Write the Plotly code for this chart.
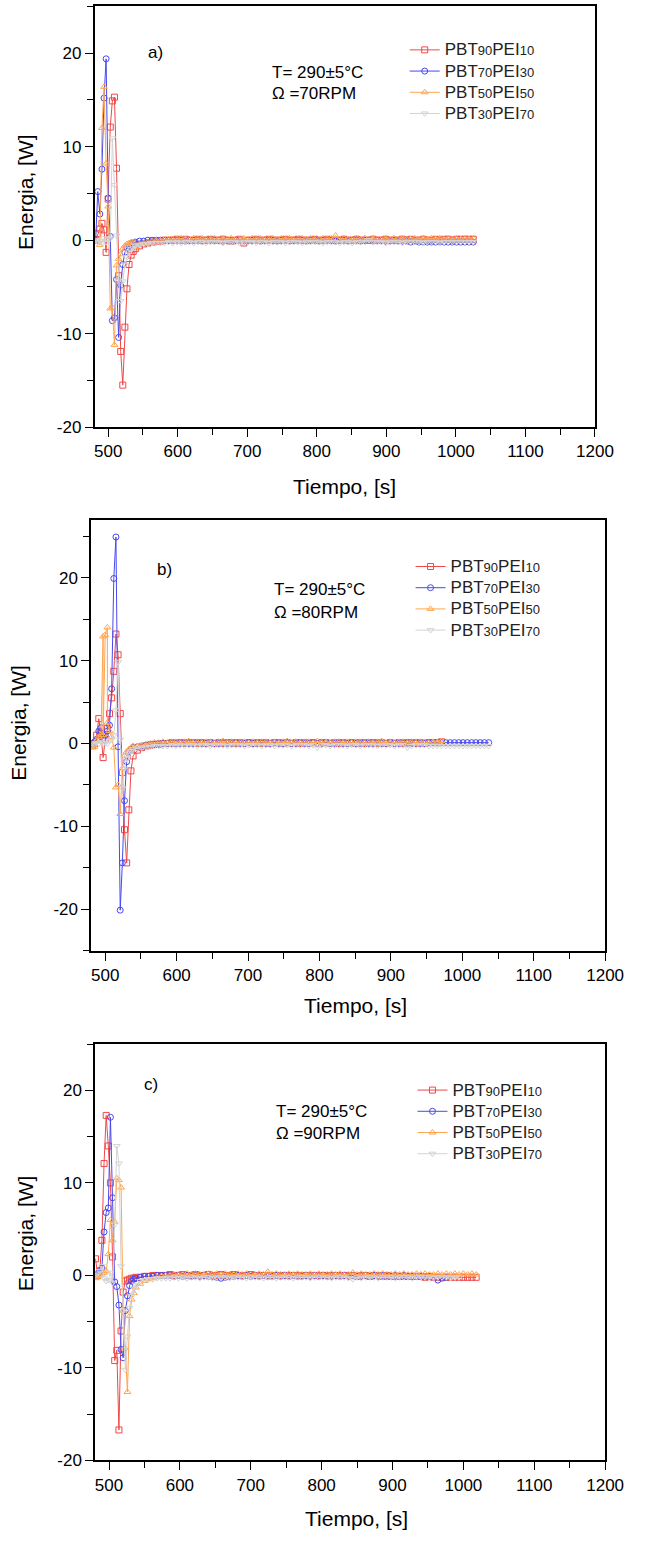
import plotly.graph_objects as go

# ---------------- DATA ----------------
series_labels = [("90", "10"), ("70", "30"), ("50", "50"), ("30", "70")]
panel_tags = ["a)", "b)", "c)"]
panel_rpm = ["70", "80", "90"]
x_tick_vals = [500, 600, 700, 800, 900, 1000, 1100, 1200]
x_tick_text = ["500", "600", "700", "800", "900", "1000", "1100", "1200"]
y_tick_vals = [-20, -10, 0, 10, 20]
y_tick_text = ["-20", "-10", "0", "10", "20"]
tail_step = 6

# ---- panel a (70 RPM) ----
a_t = [482, 485, 488, 491, 494, 497, 500, 503, 506, 509, 512, 515, 518, 521, 524, 527, 530, 533, 536]
a_red_v = [0.0, 0.7, 1.2, 1.8, 1.1, -1.3, 4.4, 12.1, 14.9, 15.3, 7.7, -3.8, -11.9, -15.5, -9.3, -5.2, -2.6, -1.6, -1.2]
a_blue_v = [0.0, 5.2, 2.8, 7.6, 15.2, 19.4, 4.5, 0.4, -8.6, -8.3, -4.2, -10.4, -4.8, -2.6, -1.3, -0.8, -0.6, -0.4, -0.3]
a_orange_v = [-0.2, 0.0, -0.5, 12.0, 16.4, 8.2, 3.6, -7.3, -7.2, -11.2, -2.7, -2.0, -1.5, -0.9, -0.6, -0.4, -0.3, -0.2, -0.2]
a_gray_v = [0.0, -0.2, -0.1, -0.3, 0.2, -0.2, 0.1, 0.2, 10.9, 5.9, 0.5, -4.3, -6.5, -4.4, -2.6, -1.8, -1.3, -1.0, -0.8]
a_tail_start = 539
a_red_tail = [-0.9, -0.6, -0.4, -0.3, -0.2, -0.1, -0.1, 0.0, 0.0, 0.0,
              0.1, 0.0, 0.1, 0.0, 0.0, 0.1, 0.0, 0.0, 0.1, 0.0,
              0.0, 0.1, 0.0, -0.1, 0.0, 0.1, -0.3, 0.0, 0.0, 0.1,
              0.0, 0.0, 0.1, 0.0, 0.0, 0.0, 0.1, 0.0, 0.0, 0.1,
              0.0, 0.0, 0.0, 0.1, 0.0, 0.0, 0.1, 0.0, 0.0, 0.0,
              0.1, 0.0, 0.0, 0.1, 0.0, 0.0, 0.0, 0.1, 0.0, 0.0,
              0.1, 0.0, 0.0, 0.0, 0.1, 0.0, 0.1, 0.0, 0.0, 0.1,
              0.0, 0.0, 0.1, 0.0, 0.1, 0.1, 0.0, 0.1, 0.1, 0.1,
              0.1, 0.1]
a_blue_tail = [-0.2, -0.1, -0.1, 0.0, 0.0, 0.0, 0.0, 0.0, 0.0, 0.0,
               0.0, 0.0, -0.1, 0.0, 0.0, 0.0, -0.1, 0.0, 0.0, 0.0,
               0.0, -0.1, 0.0, 0.0, 0.0, 0.0, -0.1, 0.0, 0.0, 0.0,
               -0.1, 0.0, 0.0, 0.0, -0.1, 0.0, 0.0, -0.1, 0.0, 0.0,
               0.0, -0.1, 0.0, 0.0, -0.1, 0.0, 0.0, 0.0, -0.1, 0.0,
               0.0, -0.1, 0.0, 0.0, -0.1, 0.0, 0.0, -0.1, 0.0, 0.0,
               -0.1, -0.1, 0.0, -0.1, -0.1, -0.1, -0.2, -0.1, -0.2, -0.2,
               -0.2, -0.2, -0.2, -0.2, -0.2, -0.2, -0.2, -0.2, -0.2, -0.2,
               -0.2, -0.2]
a_orange_tail = [-0.7, -0.4, -0.3, -0.2, -0.1, 0.0, 0.0, 0.1, 0.1, 0.1,
                 0.1, 0.2, 0.1, 0.1, 0.2, 0.1, 0.2, 0.1, 0.1, 0.2,
                 0.1, 0.2, 0.1, 0.2, 0.1, 0.1, 0.2, 0.1, 0.2, 0.1,
                 0.2, 0.1, 0.1, 0.2, 0.1, 0.2, 0.1, 0.2, 0.1, 0.1,
                 0.2, 0.1, 0.2, 0.1, 0.1, 0.2, 0.1, 0.2, 0.5, 0.1,
                 0.2, 0.1, 0.1, 0.2, 0.1, 0.2, 0.1, 0.2, 0.1, 0.1,
                 0.2, 0.1, 0.2, 0.1, 0.2, 0.1, 0.1, 0.2, 0.1, 0.2,
                 0.1, 0.2, 0.1, 0.2, 0.1, 0.2, 0.1, 0.2, 0.1, 0.2,
                 0.1, 0.2]
a_gray_tail = [-0.6, -0.5, -0.4, -0.4, -0.3, -0.3, -0.3, -0.3, -0.2, -0.3,
               -0.2, -0.3, -0.2, -0.2, -0.3, -0.2, -0.2, -0.3, -0.2, -0.2,
               -0.2, -0.3, -0.2, -0.2, -0.2, -0.3, -0.2, -0.2, -0.2, -0.3,
               -0.2, -0.2, -0.3, -0.2, -0.2, -0.2, -0.3, -0.2, -0.2, -0.2,
               -0.3, -0.2, -0.2, -0.2, -0.2, -0.3, -0.2, -0.2, -0.2, -0.3,
               -0.2, -0.2, -0.3, -0.2, -0.2, -0.2, 0.0, -0.2, -0.2, -0.2,
               -0.3, -0.2, -0.2, -0.2, -0.3, -0.2, -0.2, -0.2, -0.2, -0.3,
               -0.2, -0.2, -0.2, -0.3, -0.2, -0.2, -0.2, -0.2, -0.2, -0.2,
               -0.2, -0.2]

# ---- panel b (80 RPM) ----
b_t = [482, 485, 488, 491, 494, 497, 500, 503, 506, 509, 512, 515, 518, 521, 524, 527, 530, 533, 536, 539]
b_red_v = [-0.2, 0.0, 1.0, 3.0, 1.2, -1.7, 0.5, 1.8, 3.6, 5.5, 8.7, 13.2, 10.7, 3.6, -3.5, -10.4, -14.4, -8.0, -3.3, -1.5]
b_blue_v = [0.0, 0.2, 0.5, 1.5, 1.9, 0.6, 1.0, 1.5, 2.2, 6.6, 19.9, 24.9, -0.4, -20.1, -14.4, -6.9, -2.2, -1.0, -0.7, -0.5]
b_orange_t = [482, 485, 488, 491, 494, 497, 497, 500, 503, 503, 506, 509, 512, 515, 518, 521, 524, 527, 530, 533, 536, 539]
b_orange_v = [-0.5, -0.4, 0.3, 0.8, 1.0, 12.9, 1.0, 13.1, 14.0, 2.5, 1.5, 0.8, -0.5, -5.3, -5.0, -8.5, -3.0, -1.5, -1.0, -0.7, -0.5, -0.3]
b_gray_v = [0.0, -0.1, 0.1, 0.0, 0.2, 0.0, 0.1, 0.0, 0.3, 0.5, 1.0, 4.0, 9.8, 0.5, -5.4, -3.0, -1.8, -1.2, -0.9, -0.7]
b_tail_start = 545
b_red_tail = [-0.8, -0.5, -0.3, -0.2, -0.1, -0.1, 0.0, 0.0, 0.1, 0.0,
              0.1, 0.0, 0.1, 0.1, 0.0, 0.1, 0.0, 0.1, 0.0, 0.1,
              0.0, 0.1, 0.1, 0.0, 0.1, 0.0, 0.1, 0.0, 0.1, 0.0,
              0.1, 0.0, 0.1, 0.1, 0.0, 0.1, 0.0, 0.1, 0.0, 0.1,
              0.0, 0.1, 0.0, 0.1, 0.1, 0.0, 0.1, 0.0, 0.1, 0.0,
              0.1, 0.0, 0.1, 0.0, 0.1, 0.1, 0.0, 0.1, 0.0, 0.1,
              0.0, 0.1, 0.0, 0.1, 0.1, 0.0, 0.1, 0.0, 0.1, 0.1,
              0.1, 0.2]
b_blue_tail = [-0.4, -0.3, -0.2, -0.1, -0.1, 0.0, 0.0, 0.0, 0.0, 0.0,
               0.0, 0.1, 0.0, 0.0, 0.1, 0.0, 0.0, 0.1, 0.0, 0.0,
               0.1, 0.0, 0.0, 0.1, 0.0, 0.0, 0.1, 0.0, 0.0, 0.1,
               0.0, 0.0, 0.1, 0.0, 0.0, 0.1, 0.0, 0.0, 0.1, 0.0,
               0.0, 0.1, 0.0, 0.0, 0.1, 0.0, 0.0, 0.1, 0.0, 0.0,
               0.1, 0.0, 0.0, 0.1, 0.0, 0.0, 0.1, 0.0, 0.0, 0.1,
               0.0, 0.0, 0.1, 0.0, 0.0, 0.1, 0.0, 0.0, 0.1, 0.1,
               0.1, 0.1, 0.1, 0.1, 0.1, 0.1, 0.1, 0.1, 0.1, 0.1,
               0.1, 0.1, 0.1]
b_orange_tail = [-0.3, -0.2, -0.1, 0.0, 0.1, 0.1, 0.2, 0.1, 0.2, 0.2,
                 0.1, 0.2, 0.3, 0.1, 0.2, 0.1, 0.2, 0.2, 0.1, 0.2,
                 0.3, 0.1, 0.2, 0.1, 0.2, 0.2, 0.1, 0.2, 0.1, 0.2,
                 0.2, 0.1, 0.2, 0.1, 0.2, 0.3, 0.1, 0.2, 0.1, 0.2,
                 0.2, 0.1, 0.3, 0.1, 0.2, 0.1, 0.2, 0.2, 0.1, 0.2,
                 0.1, 0.2, 0.2, 0.1, 0.2, 0.1, 0.2, 0.3, 0.1, 0.2,
                 0.1, 0.2, 0.2, 0.1, 0.2, 0.1, 0.2, 0.2, 0.1, 0.2,
                 0.2, 0.3]
b_gray_tail = [-0.6, -0.5, -0.4, -0.4, -0.3, -0.3, -0.3, -0.3, -0.2, -0.3,
               -0.2, -0.3, -0.2, -0.2, -0.3, -0.2, -0.2, -0.3, -0.2, -0.2,
               -0.2, -0.3, -0.2, -0.2, -0.2, -0.3, -0.2, -0.2, -0.2, -0.3,
               -0.2, -0.2, -0.3, -0.2, -0.2, -0.2, -0.3, -0.2, -0.2, -0.2,
               -0.3, -0.2, -0.5, -0.2, -0.2, -0.3, -0.2, -0.2, -0.2, -0.3,
               -0.2, -0.2, -0.3, -0.2, -0.2, -0.2, -0.3, -0.2, -0.2, -0.2,
               -0.3, -0.2, -0.2, -0.5, -0.3, -0.2, -0.2, -0.2, -0.3, -0.3,
               -0.3, -0.3, -0.3, -0.3, -0.3, -0.3, -0.3, -0.3, -0.3, -0.3,
               -0.3, -0.3, -0.3]

# ---- panel c (90 RPM) ----
c_t = [481, 484, 487, 490, 493, 496, 499, 502, 505, 508, 511, 514, 517, 520, 523, 526, 529, 532, 535, 538]
c_red_v = [1.8, 0.0, 0.5, 3.8, 12.1, 17.3, 14.0, 10.0, 2.0, -9.2, -8.1, -16.7, -6.0, -1.8, -0.6, -0.5, -0.4, -0.3, -0.3, -0.2]
c_blue_v = [0.0, 0.2, 0.5, 0.8, 4.7, 6.8, 7.3, 17.1, 8.4, -0.7, -1.2, -3.2, -8.0, -8.9, -3.8, -2.2, -1.1, -0.6, -0.4, -0.3]
c_orange_v = [-0.3, -0.2, 0.0, 0.2, 0.3, 0.5, 2.3, 6.0, 3.8, 5.8, 10.5, 10.3, 9.5, -3.8, -7.9, -12.6, -4.4, -2.6, -1.9, -1.3]
c_gray_v = [0.0, 0.2, 0.5, 1.0, -0.3, -0.6, -0.5, 0.3, -0.8, 5.5, 14.0, 12.1, 1.0, -3.8, -10.2, -6.6, -3.5, -2.2, -1.4, -1.0]
c_tail_start = 544
c_red_tail = [-0.2, -0.1, -0.1, 0.0, 0.0, 0.0, 0.0, 0.1, 0.0, 0.0,
              0.1, 0.0, 0.0, 0.1, 0.0, 0.0, 0.1, 0.0, 0.0, 0.1,
              0.0, 0.0, 0.1, 0.0, 0.0, 0.0, 0.1, 0.0, 0.0, 0.0,
              0.0, 0.0, 0.0, 0.0, 0.0, 0.0, 0.0, 0.0, 0.0, 0.0,
              0.0, 0.0, 0.0, 0.0, 0.0, 0.0, 0.0, 0.0, 0.0, 0.0,
              0.0, -0.1, 0.0, 0.0, -0.1, 0.0, 0.0, -0.1, 0.0, -0.1,
              -0.1, -0.1, -0.1, -0.1, -0.1, -0.1, -0.1, -0.2, -0.1, -0.2,
              -0.2, -0.2, -0.2, -0.2, -0.2, -0.2, -0.2, -0.2, -0.2, -0.2]
c_blue_tail = [-0.2, -0.1, -0.1, -0.1, 0.0, 0.0, 0.0, 0.0, -0.1, 0.0,
               -0.1, 0.0, -0.1, 0.0, -0.1, 0.0, -0.1, -0.1, -0.2, -0.3,
               -0.2, -0.1, -0.1, 0.0, -0.1, 0.0, -0.1, 0.0, -0.1, 0.0,
               -0.1, -0.1, 0.0, -0.1, 0.0, -0.1, 0.0, -0.1, -0.1, 0.0,
               -0.1, 0.0, -0.1, 0.0, -0.1, -0.1, 0.0, -0.1, 0.0, -0.1,
               0.0, -0.1, -0.1, 0.0, -0.1, 0.0, -0.1, 0.0, -0.1, -0.1,
               0.0, -0.1, 0.0, -0.1, -0.1, -0.1, -0.1, -0.1, -0.1, -0.2,
               -0.5, -0.3, -0.2]
c_orange_tail = [-0.9, -0.6, -0.4, -0.3, -0.2, -0.1, 0.0, 0.0, 0.1, 0.1,
                 0.1, 0.2, 0.1, 0.2, 0.1, 0.1, 0.2, 0.1, 0.2, 0.1,
                 0.2, 0.1, 0.1, 0.2, 0.1, 0.2, 0.1, 0.1, 0.2, 0.1,
                 0.4, 0.1, 0.2, 0.1, 0.1, 0.2, 0.1, 0.2, 0.1, 0.1,
                 0.2, 0.1, 0.2, 0.1, 0.1, 0.2, 0.1, 0.2, 0.1, 0.1,
                 0.3, 0.1, 0.2, 0.1, 0.1, 0.2, 0.1, 0.2, 0.1, 0.1,
                 0.2, 0.1, 0.2, 0.1, 0.1, 0.2, 0.1, 0.2, 0.1, 0.1,
                 0.2, 0.1, 0.2, 0.1, 0.2, 0.1, 0.2, 0.1, 0.2, 0.1]
c_gray_tail = [-0.6, -0.5, -0.4, -0.4, -0.3, -0.3, -0.3, -0.3, -0.2, -0.3,
               -0.2, -0.3, -0.2, -0.2, -0.3, -0.2, -0.2, -0.3, -0.2, -0.2,
               -0.2, -0.3, -0.2, -0.2, -0.2, -0.3, -0.2, -0.2, -0.2, -0.3,
               -0.2, -0.2, -0.3, -0.2, -0.2, -0.2, -0.3, -0.2, -0.2, -0.2,
               -0.3, -0.2, -0.2, -0.2, -0.2, -0.3, -0.2, -0.2, -0.2, -0.3,
               -0.4, -0.2, -0.3, -0.2, -0.2, -0.2, -0.3, -0.2, -0.2, -0.2,
               -0.3, -0.2, -0.2, -0.2, -0.3, -0.2, -0.2, -0.2, -0.2, -0.3,
               -0.2, -0.2, -0.2, -0.3, -0.2, -0.2]

# ---------------- STYLE / LAYOUT ----------------
W, H = 645, 1543
FONT = "Liberation Sans, Arial, sans-serif"
colors = ["#f04848", "#4848f0", "#ffa54f", "#d4d4d4"]
symbols = ["square-open", "circle-open", "triangle-up-open", "triangle-down-open"]


def fx(px):
    return px / W


def fy(py):
    return 1 - py / H


panels = [
    dict(box=(97.5, 613, 6.5, 430), xr=[480.5, 1200], yr=[-20, 25],
         t=[a_t, a_t, a_t, a_t], v=[a_red_v, a_blue_v, a_orange_v, a_gray_v],
         ts=a_tail_start, tails=[a_red_tail, a_blue_tail, a_orange_tail, a_gray_tail],
         tag=(160, 53), info=(278, 73, 94), leg=(417, 34.5), ytitle=(27, 193), xtitle=(355, 490)),
    dict(box=(94, 623.5, 523, 957), xr=[480.4, 1200], yr=[-25, 27],
         t=[b_t, b_t, b_orange_t, b_t], v=[b_red_v, b_blue_v, b_orange_v, b_gray_v],
         ts=b_tail_start, tails=[b_red_tail, b_blue_tail, b_orange_tail, b_gray_tail],
         tag=(169, 573), info=(280, 593, 616), leg=(423, 554.5), ytitle=(19, 727), xtitle=(366, 1012)),
    dict(box=(98, 623.5, 1051, 1470), xr=[480.4, 1200], yr=[-20, 25],
         t=[c_t, c_t, c_t, c_t], v=[c_red_v, c_blue_v, c_orange_v, c_gray_v],
         ts=c_tail_start, tails=[c_red_tail, c_blue_tail, c_orange_tail, c_gray_tail],
         tag=(156, 1092), info=(282, 1119, 1141), leg=(425, 1081.5), ytitle=(27, 1241), xtitle=(367, 1528)),
]


def legend_name(a, b):
    big = "<span style='font-size:17px'>%s</span>"
    small = "<span style='font-size:13px'>%s</span>"
    return big % "PBT" + small % a + big % "PEI" + small % b


fig = go.Figure()
annotations = []
layout = dict(width=W, height=H, autosize=False, margin=dict(l=0, r=0, t=0, b=0),
              paper_bgcolor="white", plot_bgcolor="white",
              font=dict(family=FONT, size=17, color="black"))

for p, P in enumerate(panels):
    sfx = "" if p == 0 else str(p + 1)
    xa, ya = "x" + sfx, "y" + sfx
    leg = "legend" + sfx
    for s in range(4):
        tail = P["tails"][s]
        tt = list(P["t"][s]) + [P["ts"] + tail_step * i for i in range(len(tail))]
        vv = list(P["v"][s]) + list(tail)
        fig.add_trace(go.Scatter(
            x=tt, y=vv, mode="lines+markers", xaxis=xa, yaxis=ya, legend=leg,
            name=legend_name(*series_labels[s]),
            line=dict(color=colors[s], width=1),
            marker=dict(symbol=symbols[s], size=6, color=colors[s], line=dict(width=1, color=colors[s])),
        ))
    x0, x1, y0, y1 = P["box"]
    axis_common = dict(showline=True, linecolor="black", linewidth=1.6, mirror=True,
                       ticks="outside", ticklen=8, tickwidth=1.3, tickcolor="black",
                       showgrid=False, zeroline=False,
                       tickfont=dict(family=FONT, size=17, color="black"))
    layout["xaxis" + sfx] = dict(
        domain=[fx(x0), fx(x1)], range=P["xr"], anchor=ya,
        tickmode="array", tickvals=x_tick_vals, ticktext=x_tick_text,
        minor=dict(tickmode="linear", tick0=0, dtick=50, ticks="outside", ticklen=6,
                   tickwidth=1.3, tickcolor="black", showgrid=False),
        **axis_common)
    layout["yaxis" + sfx] = dict(
        domain=[fy(y1), fy(y0)], range=P["yr"], anchor=xa,
        tickmode="array", tickvals=y_tick_vals, ticktext=y_tick_text,
        minor=dict(tickmode="linear", tick0=0, dtick=5, ticks="outside", ticklen=6,
                   tickwidth=1.3, tickcolor="black", showgrid=False),
        **axis_common)
    layout[leg] = dict(x=fx(P["leg"][0]), y=fy(P["leg"][1]), xanchor="left", yanchor="top",
                       bgcolor="rgba(0,0,0,0)", borderwidth=0, itemwidth=30, tracegroupgap=0,
                       font=dict(family=FONT, size=14, color="#222222"))
    annotations.append(dict(text=panel_tags[p], x=fx(P["tag"][0]), y=fy(P["tag"][1]),
                            xref="paper", yref="paper", showarrow=False,
                            xanchor="center", yanchor="middle", font=dict(size=17)))
    annotations.append(dict(text="T= 290±5°C", x=fx(P["info"][0]), y=fy(P["info"][1]),
                            xref="paper", yref="paper", showarrow=False,
                            xanchor="left", yanchor="middle", font=dict(size=17)))
    annotations.append(dict(text="Ω =" + panel_rpm[p] + "RPM", x=fx(P["info"][0]), y=fy(P["info"][2]),
                            xref="paper", yref="paper", showarrow=False,
                            xanchor="left", yanchor="middle", font=dict(size=17)))
    annotations.append(dict(text="Energia, [W]", x=fx(P["ytitle"][0]), y=fy(P["ytitle"][1]),
                            xref="paper", yref="paper", showarrow=False, textangle=-90,
                            xanchor="center", yanchor="middle", font=dict(size=21)))
    annotations.append(dict(text="Tiempo, [s]", x=fx(P["xtitle"][0]), y=fy(P["xtitle"][1]),
                            xref="paper", yref="paper", showarrow=False,
                            xanchor="center", yanchor="middle", font=dict(size=21)))

layout["annotations"] = annotations
layout["showlegend"] = True
fig.update_layout(**layout)
fig.write_html("out.html")
